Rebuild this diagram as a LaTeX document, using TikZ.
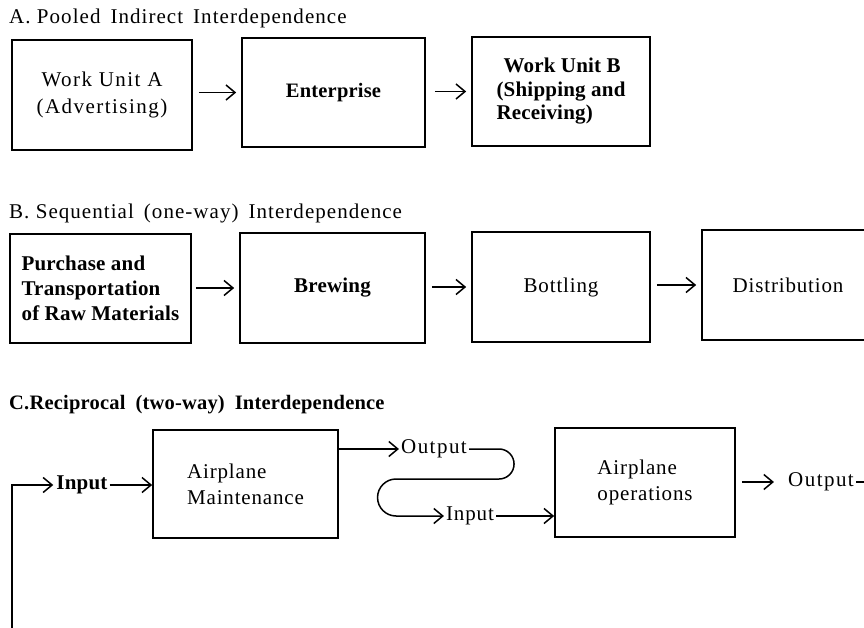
\documentclass[tikz,border=0pt]{standalone}
\usepackage{fontspec}
\setmainfont{Liberation Serif}[LetterSpace=4, BoldFeatures={LetterSpace=1}]
\usetikzlibrary{arrows.meta}
\newcommand\tsp{\hspace{10pt}}
\newcommand\wider{\addfontfeature{LetterSpace=7}}
\newcommand\titlesp{\addfontfeature{LetterSpace=5}}
\begin{document}
\begin{tikzpicture}[x=1pt,y=-1pt,
  every node/.style={font=\fontsize{21}{26}\selectfont, inner sep=2pt},
  title/.style={anchor=west, font=\fontsize{21}{25}\selectfont\titlesp},
  box/.style={draw, line width=1.7pt, inner sep=0pt},
  arr/.style={line width=1.5pt, -{Straight Barb[length=9pt,width=15pt,line width=1.5pt]}},
  plain/.style={line width=1.5pt},
  gapped/.style={arr, shorten <=6pt, shorten >=5pt}]
\useasboundingbox (0,0) rectangle (864,628);
\clip (0,0) rectangle (864,628);
\fill[white] (0,0) rectangle (864,628);

% ---------- A ----------
\node[title] (tA) at (7,18) {A. Pooled\tsp{}Indirect\tsp{}Interdependence};
\node[box, minimum width=180pt, minimum height=110pt, align=center, font=\fontsize{21}{26}\selectfont\wider] (wuA) at (102,95)
  {Work Unit A\\[1pt](Advertising)};
\node[box, minimum width=183pt, minimum height=109pt, font=\fontsize{20.5}{26}\selectfont\bfseries] (ent) at (333.5,92.5) {Enterprise};
\node[box, minimum width=178pt, minimum height=109pt, align=left, font=\fontsize{21}{23.5}\selectfont\bfseries] (wuB) at (561,91.5)
  {\hspace*{7pt}Work Unit B\\(Shipping and\\Receiving)};
\draw[gapped] (wuA.east |- ent.west) -- (ent.west);
\draw[gapped, shorten <=9pt] (ent.east |- wuB.west) -- (wuB.west);

% ---------- B ----------
\node[title] (tB) at (7,213) {B. Sequential\tsp{}(one-way)\tsp{}Interdependence};
\node[box, minimum width=181pt, minimum height=109pt, align=left, font=\fontsize{21}{25}\selectfont\bfseries] (pur) at (100.5,288.5)
  {Purchase and\\Transportation\\of Raw Materials};
\node[box, minimum width=185pt, minimum height=110pt, font=\fontsize{21}{26}\selectfont\bfseries] (brew) at (332.5,288) {Brewing};
\node[box, minimum width=178pt, minimum height=110pt] (bott) at (561,287) {Bottling};
\node[box, minimum width=172pt, minimum height=110pt] (dist) at (788,285) {Distribution};
\draw[gapped, shorten <=4pt] (pur.east |- brew.west) -- (brew.west);
\draw[gapped] (brew.east |- bott.west) -- (bott.west);
\draw[gapped] (bott.east |- dist.west) -- (dist.west);

% ---------- C ----------
\node[title, font=\fontsize{20.5}{24}\selectfont\bfseries] (tC) at (7,405) {C.Reciprocal\tsp{}(two-way)\tsp{}Interdependence};
\node[box, minimum width=185pt, minimum height=108pt, align=left] (am) at (245.5,484)
  {Airplane\\Maintenance};
\node[box, minimum width=180pt, minimum height=109pt, align=left] (ao) at (645,482.5)
  {Airplane\\operations};

\node[font=\fontsize{21}{26}\selectfont\bfseries] (in1) at (82,485) {Input};
\coordinate (ret) at (12,640);
\draw[arr, shorten >=1pt] (ret) |- (in1.west);
\draw[arr] (in1.east) -- (am.west |- in1.east);

\node[font=\fontsize{21}{26}\selectfont\wider] (out1) at (434,449) {Output};
\draw[arr] (am.east |- out1.west) -- (out1.west);

\node (in2) at (470,516) {Input};
\draw[arr] (out1.east) -- ++(30,0) arc[start angle=90, end angle=-90, radius=15pt]
  -- ++(-103,0) arc[start angle=90, end angle=270, radius=18.5pt] -- (in2.west);
\draw[arr] (in2.east) -- (ao.west |- in2.east);

\node[font=\fontsize{21}{26}\selectfont\wider] (out2) at (821,482) {Output};
\draw[gapped, shorten >=12pt] (ao.east |- out2.west) -- (out2.west);
\coordinate (far) at (900,482);
\draw[plain] (out2.east) -- (far);
\end{tikzpicture}
\end{document}
